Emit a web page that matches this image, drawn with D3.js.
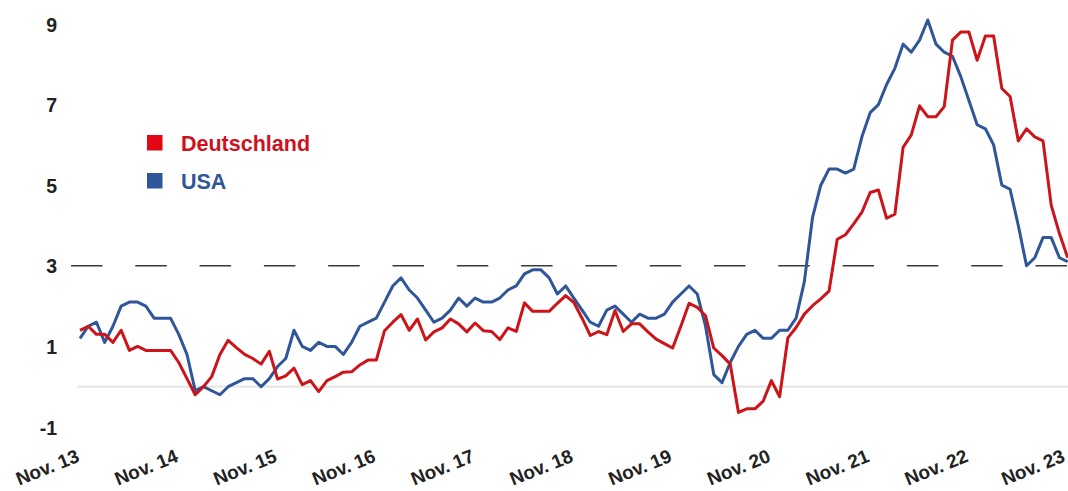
<!DOCTYPE html>
<html>
<head>
<meta charset="utf-8">
<script src="https://cdn.jsdelivr.net/npm/d3@7"></script>
<style>
  html, body { margin: 0; padding: 0; background: #fff; }
  svg { display: block; }
</style>
</head>
<body>
<svg id="chart" width="1068" height="491"></svg>
<script>
// ---- data (monthly, Nov 2013 .. Nov 2023), inflation in % ----
const xTickLabels = ["Nov. 13","Nov. 14","Nov. 15","Nov. 16","Nov. 17","Nov. 18","Nov. 19","Nov. 20","Nov. 21","Nov. 22","Nov. 23"];
const yTicks = [-1, 1, 3, 5, 7, 9];
const seriesNames = ["Deutschland", "USA"];

const deutschland = [
  1.4, 1.5, 1.3, 1.3, 1.1, 1.4, 0.9, 1.0, 0.9, 0.9, 0.9, 0.9,
  0.6, 0.2, -0.2, 0.0, 0.25, 0.8, 1.15, 0.97, 0.8, 0.7, 0.56, 0.88,
  0.19, 0.27, 0.46, 0.05, 0.15, -0.12, 0.15, 0.25, 0.36, 0.37, 0.54, 0.66,
  0.66, 1.39, 1.6, 1.79, 1.4, 1.68, 1.16, 1.36, 1.46, 1.68, 1.56, 1.36,
  1.58, 1.39, 1.37, 1.17, 1.46, 1.37, 2.08, 1.87, 1.87, 1.87, 2.07, 2.26,
  2.09, 1.7, 1.27, 1.37, 1.29, 1.89, 1.37, 1.56, 1.56, 1.36, 1.18, 1.07,
  0.96, 1.5, 2.07, 1.97, 1.76, 0.96, 0.77, 0.56, -0.64, -0.55, -0.55, -0.36,
  0.15, -0.25, 1.21, 1.47, 1.8, 2.01, 2.18, 2.37, 3.66, 3.77, 4.04, 4.33,
  4.82, 4.88, 4.18, 4.28, 5.94, 6.25, 6.97, 6.7, 6.7, 6.95, 8.6, 8.8,
  8.8, 8.1, 8.7, 8.7, 7.4, 7.2, 6.1, 6.4, 6.2, 6.1, 4.5, 3.8,
  3.2
];
const usa = [
  1.2, 1.5, 1.6, 1.1, 1.5, 2.0, 2.1, 2.1, 2.0, 1.7, 1.7, 1.7,
  1.3, 0.8, -0.1, 0.0, -0.1, -0.2, 0.0, 0.1, 0.2, 0.2, 0.0, 0.2,
  0.5, 0.7, 1.4, 1.0, 0.9, 1.1, 1.0, 1.0, 0.8, 1.1, 1.5, 1.6,
  1.7, 2.1, 2.5, 2.7, 2.4, 2.2, 1.9, 1.6, 1.7, 1.9, 2.2, 2.0,
  2.2, 2.1, 2.1, 2.2, 2.4, 2.5, 2.8, 2.9, 2.9, 2.7, 2.3, 2.5,
  2.2, 1.9, 1.6, 1.5, 1.9, 2.0, 1.8, 1.6, 1.8, 1.7, 1.7, 1.8,
  2.1, 2.3, 2.5, 2.3, 1.5, 0.3, 0.1, 0.6, 1.0, 1.3, 1.4, 1.2,
  1.2, 1.4, 1.4, 1.7, 2.6, 4.2, 5.0, 5.4, 5.4, 5.3, 5.4, 6.2,
  6.8, 7.0, 7.5, 7.9, 8.5, 8.3, 8.6, 9.1, 8.5, 8.3, 8.2, 7.7,
  7.1, 6.5, 6.4, 6.0, 5.0, 4.9, 4.0, 3.0, 3.2, 3.7, 3.7, 3.2,
  3.1
];
const targetLine = 3;

// ---- layout ----
const W = 1068, H = 491;
const svg = d3.select("#chart");
const FONT = "'Liberation Sans', Arial, sans-serif";
const colors = { line: ["#cc1419", "#30569a"], legendBox: ["#e30613", "#30569a"], legendText: ["#d0101c", "#30569a"] };

const x = d3.scaleLinear().domain([0, usa.length - 1]).range([80, 1067.7]);
const y = d3.scaleLinear().domain([-1, 9]).range([427, 24]);

// zero line
svg.append("line")
  .attr("x1", 77).attr("x2", W)
  .attr("y1", y(0)).attr("y2", y(0))
  .attr("stroke", "#e6e6e6").attr("stroke-width", 2.2);

// dashed 3% line
svg.append("line")
  .attr("x1", 71).attr("x2", W)
  .attr("y1", y(targetLine)).attr("y2", y(targetLine))
  .attr("stroke", "#3a3a3a").attr("stroke-width", 1.5)
  .attr("stroke-dasharray", "31.5 32.8");

// y axis labels
const yAxis = d3.axisLeft(y).tickValues(yTicks).tickSize(0).tickPadding(0).tickFormat(d => String(d));
const gy = svg.append("g").attr("transform", "translate(57,0)").call(yAxis);
gy.select(".domain").remove();
gy.selectAll("text")
  .attr("font-family", FONT)
  .attr("font-weight", "bold").attr("font-size", 19.5)
  .attr("fill", "#222").attr("dy", "0.36em");

// x axis labels (rotated)
const tickIdx = xTickLabels.map((_, i) => i * 12);
const xAxis = d3.axisBottom(x).tickValues(tickIdx).tickSize(0).tickFormat((d, i) => xTickLabels[i]);
const gx = svg.append("g").call(xAxis);
gx.select(".domain").remove();
gx.selectAll(".tick").attr("transform", d => `translate(${Math.min(x(d) + 0.5, W - 2)},461)`);
gx.selectAll("text")
  .attr("y", 0).attr("dy", 0)
  .attr("text-anchor", "end")
  .attr("transform", "rotate(-22)")
  .attr("font-family", FONT)
  .attr("font-weight", "bold").attr("font-size", 19)
  .attr("fill", "#222");

// lines (USA first, Deutschland on top)
const line = d3.line().x((d, i) => x(i)).y(d => y(d));
[[usa, 1], [deutschland, 0]].forEach(([s, k]) => {
  svg.append("path")
    .datum(s)
    .attr("d", line)
    .attr("fill", "none")
    .attr("stroke", colors.line[k])
    .attr("stroke-width", 3)
    .attr("stroke-linejoin", "round");
});

// legend
const legend = svg.append("g");
seriesNames.forEach((name, k) => {
  const gy0 = 135 + k * 38;
  legend.append("rect")
    .attr("x", 147).attr("y", gy0).attr("width", 15.5).attr("height", 15.5)
    .attr("fill", colors.legendBox[k]);
  legend.append("text")
    .attr("x", 181).attr("y", gy0 + 15.5)
    .attr("font-family", FONT)
    .attr("font-weight", "bold").attr("font-size", 21.5)
    .attr("fill", colors.legendText[k])
    .text(name);
});
</script>
</body>
</html>
